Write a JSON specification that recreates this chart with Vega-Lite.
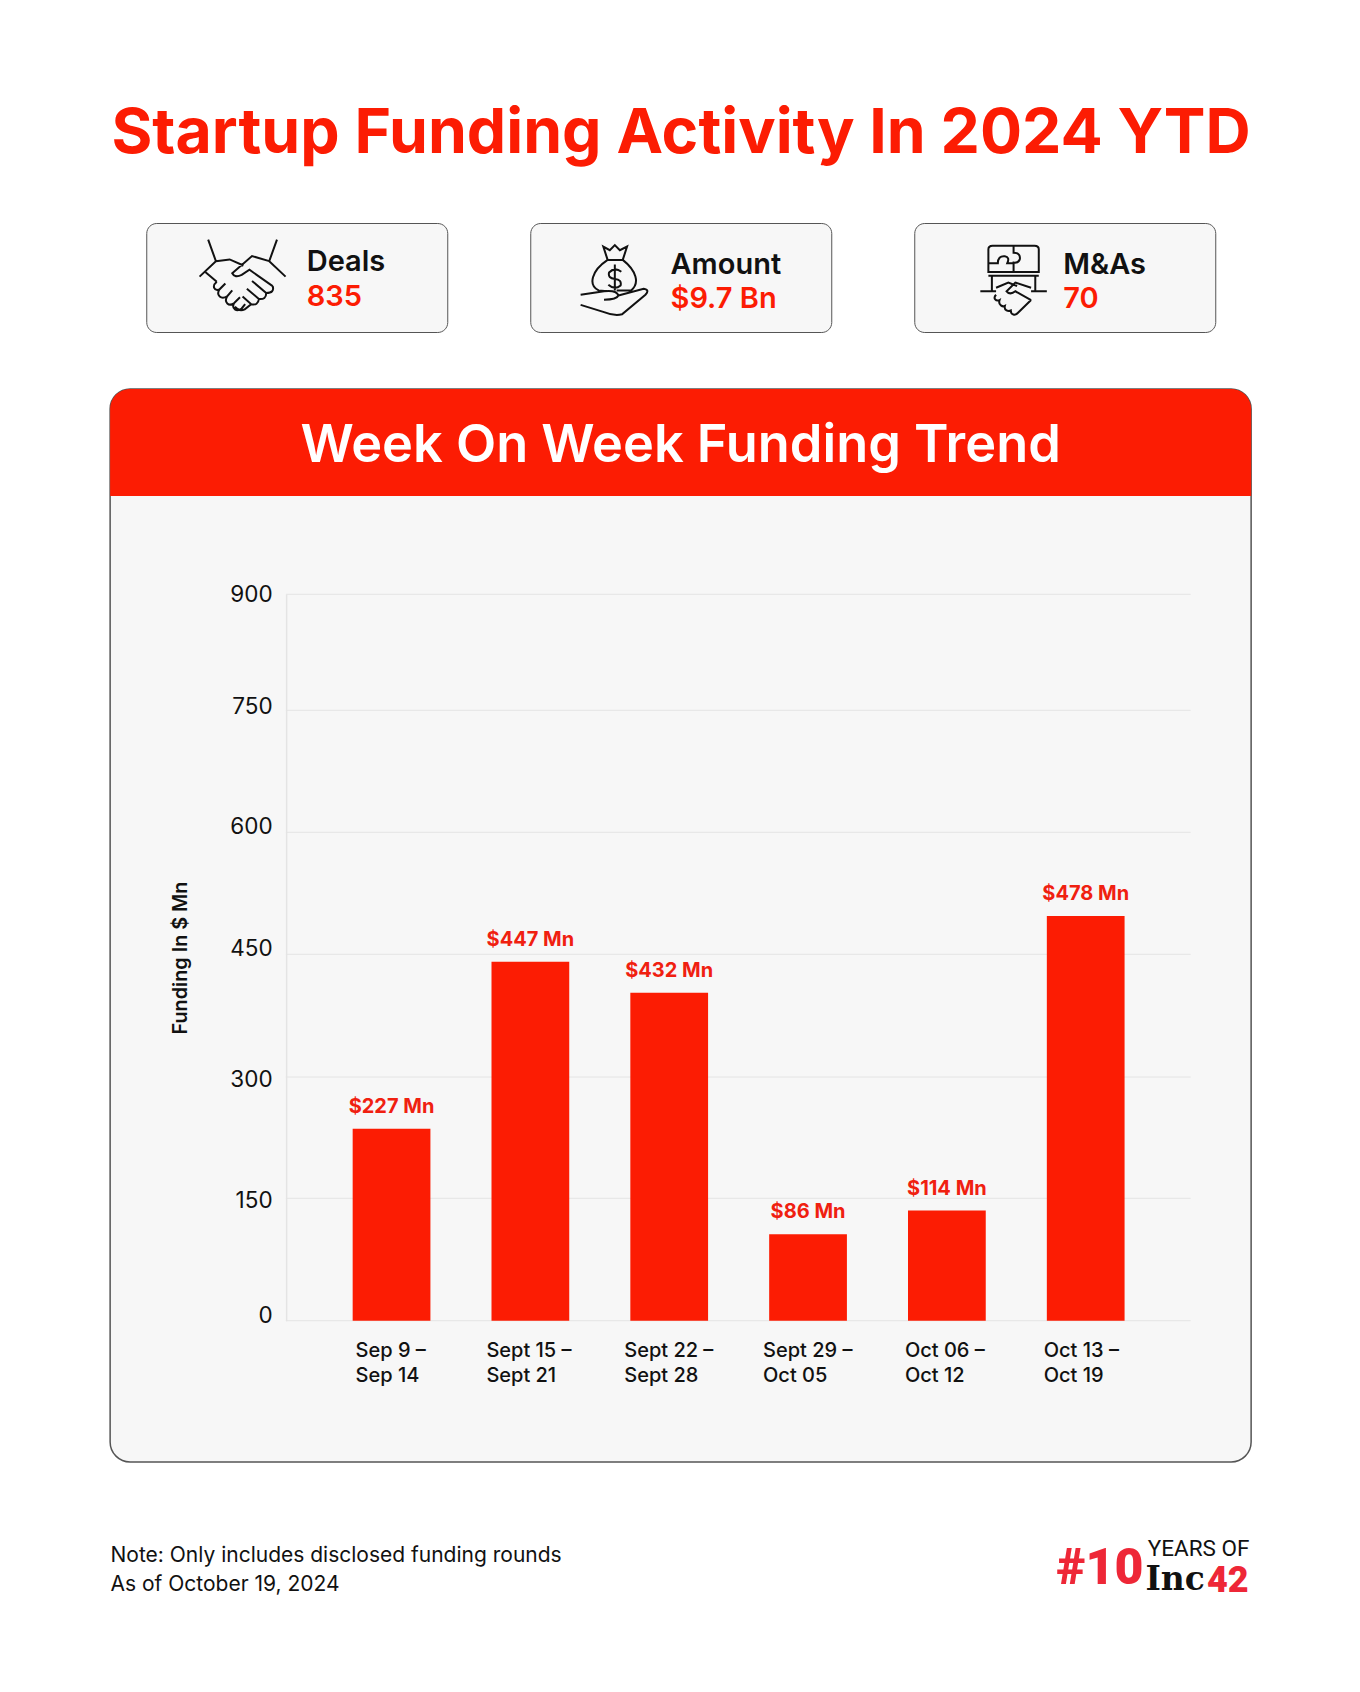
{"$schema":"https://vega.github.io/schema/vega-lite/v6.json","background":"white","padding":{"left":109,"right":109,"top":95,"bottom":75},"autosize":{"type":"pad"},"config":{"view":{"stroke":null},"font":"Inter","text":{"font":"Inter"}},
"datasets":{"weeks":[{"week":"Sep 9 –|Sep 14","funding":236,"label":"$227 Mn"},{"week":"Sept 15 –|Sept 21","funding":441,"label":"$447 Mn"},{"week":"Sept 22 –|Sept 28","funding":403,"label":"$432 Mn"},{"week":"Sept 29 –|Oct 05","funding":106,"label":"$86 Mn"},{"week":"Oct 06 –|Oct 12","funding":135,"label":"$114 Mn"},{"week":"Oct 13 –|Oct 19","funding":497,"label":"$478 Mn"}],"ticks":[{"tick":0},{"tick":150},{"tick":300},{"tick":450},{"tick":600},{"tick":750},{"tick":900}]},
"vconcat":[
{"width":1141,"height":72,"data":{"values":[{"t":"Startup Funding Activity In 2024 YTD"}]},"mark":{"type":"text","fontSize":62.5,"fontWeight":700,"color":"#fc1c03","font":"Inter","dy":3},"encoding":{"text":{"field":"t"}}},
{"hconcat":[
{"width":301,"height":109,"view":{"fill":"#f7f7f7","stroke":"#555555","strokeWidth":1,"cornerRadius":10},"data":{"values":[{"name":"Deals","val":"835"}]},"layer":[
{"mark":{"type":"point","filled":false,"stroke":"#111111","strokeWidth":2,"opacity":1,"size":7396,"shape":"M-1 -0.02L-0.62 -0.38L-0.8 -0.88 M1 -0.02L0.62 -0.38L0.8 -0.88 M-0.62 -0.38L-0.3 -0.42L0.02 -0.28 M0.62 -0.38L0.22 -0.5L-0.24 -0.1 Q-0.18 0.02 -0.02 -0.06L0.16 -0.18L0.7 0.2 M-0.86 -0.12L-0.6 0.1 M0.7 0.2Q0.75 0.36 0.55 0.36L0.22 0.08 M0.55 0.36Q0.55 0.52 0.38 0.5L0.1 0.26 M0.38 0.5Q0.36 0.66 0.2 0.62L0 0.44 M0.2 0.62L0.05 0.74Q-0.08 0.8 -0.18 0.68 M-0.6 0.1C-0.72 0.2 -0.66 0.32 -0.54 0.28 L-0.4 0.14 M-0.54 0.28 C-0.62 0.42 -0.5 0.52 -0.36 0.44 L-0.24 0.3 M-0.36 0.44 C-0.44 0.58 -0.32 0.68 -0.2 0.6 L-0.06 0.46 M-0.2 0.6 C-0.26 0.72 -0.14 0.82 -0.02 0.72 L0.06 0.62"},"encoding":{"x":{"datum":0.32,"type":"quantitative","scale":{"domain":[0,1],"range":[0,301]},"axis":null},"y":{"datum":0.5,"type":"quantitative","scale":{"domain":[0,1],"range":[0,109]},"axis":null}}},
{"mark":{"type":"text","align":"left","fontSize":29,"fontWeight":600,"color":"#111111"},"encoding":{"text":{"field":"name"},"x":{"datum":0.533,"type":"quantitative","axis":null},"y":{"datum":0.36,"type":"quantitative","axis":null}}},
{"mark":{"type":"text","align":"left","fontSize":29,"fontWeight":600,"color":"#fc1c03"},"encoding":{"text":{"field":"val"},"x":{"datum":0.533,"type":"quantitative","axis":null},"y":{"datum":0.676,"type":"quantitative","axis":null}}}]},
{"width":301,"height":109,"view":{"fill":"#f7f7f7","stroke":"#555555","strokeWidth":1,"cornerRadius":10},"data":{"values":[{"name":"Amount","val":"$9.7 Bn"}]},"layer":[
{"mark":{"type":"point","filled":false,"stroke":"#111111","strokeWidth":2,"opacity":1,"size":5184,"shape":"M-0.2 -0.55C-0.65 -0.25 -0.75 0.15 -0.45 0.3 L-0.2 0.32 M0.22 -0.55C0.6 -0.25 0.7 0.1 0.45 0.3 L0.05 0.3 M-0.2 -0.55L0.22 -0.55 M-0.2 -0.55L-0.32 -0.92L-0.14 -0.82L0 -0.96L0.14 -0.82L0.34 -0.92L0.22 -0.55 M0.18 -0.22Q0 -0.36 -0.16 -0.2Q-0.2 -0.04 0 -0.02Q0.2 0 0.16 0.16Q0 0.3 -0.18 0.14 M0 -0.42L0 0.3 M-0.95 0.42L-0.3 0.32 Q0.05 0.28 0.1 0.44 Q0.05 0.55 -0.3 0.56 M0.1 0.44L0.8 0.25 Q0.98 0.28 0.85 0.42 L0.2 0.96 Q0 1.02 -0.3 0.9 L-0.95 0.7"},"encoding":{"x":{"datum":0.281,"type":"quantitative","scale":{"domain":[0,1],"range":[0,301]},"axis":null},"y":{"datum":0.52,"type":"quantitative","scale":{"domain":[0,1],"range":[0,109]},"axis":null}}},
{"mark":{"type":"text","align":"left","fontSize":29,"fontWeight":600,"color":"#111111"},"encoding":{"text":{"field":"name"},"x":{"datum":0.466,"type":"quantitative","axis":null},"y":{"datum":0.385,"type":"quantitative","axis":null}}},
{"mark":{"type":"text","align":"left","fontSize":29,"fontWeight":600,"color":"#fc1c03"},"encoding":{"text":{"field":"val"},"x":{"datum":0.466,"type":"quantitative","axis":null},"y":{"datum":0.694,"type":"quantitative","axis":null}}}]},
{"width":301,"height":109,"view":{"fill":"#f7f7f7","stroke":"#555555","strokeWidth":1,"cornerRadius":10},"data":{"values":[{"name":"M&As","val":"70"}]},"layer":[
{"mark":{"type":"point","filled":false,"stroke":"#111111","strokeWidth":2,"opacity":1,"size":4900,"shape":"M-0.72 -0.25L-0.72 -0.9Q-0.72 -1 -0.6 -1L0.6 -1Q0.72 -1 0.72 -0.9L0.72 -0.25Z M0 -1L0 -0.8Q0.2 -0.8 0.18 -0.62Q0.15 -0.5 0 -0.52L0 -0.25 M-0.72 -0.5L-0.45 -0.5Q-0.45 -0.72 -0.25 -0.7Q-0.1 -0.68 -0.18 -0.5L0 -0.5 M-0.72 -0.14L0.72 -0.14 M-0.62 -0.14L-0.62 0.3 M0.62 -0.14L0.62 0.3 M-0.95 0.3L-0.5 0.3 M0.95 0.3 L0.5 0.3 M-0.5 0.2L-0.15 0.05L0.1 0.15 M0.5 0.2L0.05 0.05L-0.2 0.3Q-0.1 0.42 0.05 0.3L0.5 0.55 M-0.5 0.4C-0.6 0.5 -0.5 0.6 -0.4 0.55 C-0.45 0.7 -0.3 0.75 -0.25 0.72 C-0.28 0.85 -0.15 0.88 -0.08 0.85 C-0.08 0.98 0.05 1 0.12 0.92 L0.5 0.55"},"encoding":{"x":{"datum":0.33,"type":"quantitative","scale":{"domain":[0,1],"range":[0,301]},"axis":null},"y":{"datum":0.53,"type":"quantitative","scale":{"domain":[0,1],"range":[0,109]},"axis":null}}},
{"mark":{"type":"text","align":"left","fontSize":29,"fontWeight":600,"color":"#111111"},"encoding":{"text":{"field":"name"},"x":{"datum":0.495,"type":"quantitative","axis":null},"y":{"datum":0.385,"type":"quantitative","axis":null}}},
{"mark":{"type":"text","align":"left","fontSize":29,"fontWeight":600,"color":"#fc1c03"},"encoding":{"text":{"field":"val"},"x":{"datum":0.495,"type":"quantitative","axis":null},"y":{"datum":0.694,"type":"quantitative","axis":null}}}]}
],"spacing":81},
{"width":1141,"height":1073,"view":{"fill":"#f7f7f7","stroke":"#555555","strokeWidth":1.5,"cornerRadius":20},"resolve":{"scale":{"x":"independent","y":"independent"},"axis":{"x":"independent","y":"independent"}},"layer":[
{"data":{"values":[{"h":"Week On Week Funding Trend"}]},"mark":{"type":"rect","color":"#fc1c03","cornerRadiusTopLeft":20,"cornerRadiusTopRight":20},"encoding":{"x":{"datum":0,"type":"quantitative","scale":{"domain":[0,1],"range":[0,1141]},"axis":null},"x2":{"datum":1},"y":{"datum":0,"type":"quantitative","scale":{"domain":[0,1],"range":[0,107]},"axis":null},"y2":{"datum":1}}},
{"data":{"values":[{"h":"Week On Week Funding Trend"}]},"mark":{"type":"text","color":"white","fontSize":52.3,"fontWeight":600},"encoding":{"text":{"field":"h"},"x":{"datum":0.5,"type":"quantitative","scale":{"domain":[0,1],"range":[0,1141]},"axis":null},"y":{"datum":0.53,"type":"quantitative","scale":{"domain":[0,1],"range":[0,107]},"axis":null}}},
{"data":{"name":"ticks"},"mark":{"type":"rule","color":"#e4e4e4","strokeWidth":1},"encoding":{"x":{"datum":0.154,"type":"quantitative","scale":{"domain":[0,1],"range":[0,1141]},"axis":null},"x2":{"datum":0.947},"y":{"field":"tick","type":"quantitative","scale":{"domain":[0,150,300,450,600,750,900],"range":[931.7,809.3,688,565.3,443.3,321.3,205.3]},"axis":null}}},
{"data":{"name":"weeks"},"mark":{"type":"bar","color":"#fc1c03"},"encoding":{"x":{"field":"week","type":"nominal","sort":null,"scale":{"range":[212,1045],"paddingInner":0.44,"paddingOuter":0.22},"axis":{"title":null,"orient":"bottom","offset":-141.3,"domain":false,"ticks":false,"labelAngle":0,"labelAlign":"left","labelBaseline":"middle","labelFontSize":20,"labelFontWeight":500,"labelColor":"#111111","labelPadding":30,"labelOffset":{"expr":"datum.value=='Sep 9 –|Sep 14'?-36:datum.value=='Sept 15 –|Sept 21'?-44:datum.value=='Oct 06 –|Oct 12'||datum.value=='Oct 13 –|Oct 19'?-42:-45"},"labelLineHeight":25,"labelExpr":"split(datum.label,'|')"}},"y":{"field":"funding","type":"quantitative","scale":{"domain":[0,150,300,450,600,750,900],"range":[931.7,809.3,688,565.3,443.3,321.3,205.3]},"axis":{"title":"Funding In $ Mn","orient":"left","offset":-176,"values":[0,150,300,450,600,750,900],"grid":false,"ticks":false,"domain":true,"domainColor":"#e4e4e4","domainWidth":1.5,"labelFontSize":22.5,"labelFontWeight":400,"labelColor":"#111111","labelPadding":14,"labelOffset":{"expr":"datum.value==750?-4:datum.value==600?-6:datum.value==450?-6:datum.value==300?2:datum.value==150?2:datum.value==0?-5:0"},"titleFontSize":19.8,"titleFontWeight":600,"titleColor":"#111111","titlePadding":39}}}},
{"data":{"name":"weeks"},"mark":{"type":"text","color":"#f02010","fontSize":20,"fontWeight":700,"dy":-22},"encoding":{"text":{"field":"label"},"x":{"field":"week","type":"nominal","sort":null,"scale":{"range":[212,1045],"paddingInner":0.44,"paddingOuter":0.22},"axis":null},"y":{"field":"funding","type":"quantitative","scale":{"domain":[0,150,300,450,600,750,900],"range":[931.7,809.3,688,565.3,443.3,321.3,205.3]},"axis":null}}}
]},
{"width":1141,"height":100,"data":{"values":[{"l1":"Note: Only includes disclosed funding rounds","l2":"As of October 19, 2024","a":"#10","b":"YEARS OF","c":"Inc","d":"42"}]},"layer":[
{"mark":{"type":"text","align":"left","fontSize":21,"color":"#111111"},"encoding":{"text":{"field":"l1"},"x":{"datum":0,"type":"quantitative","scale":{"domain":[0,1],"range":[0,1141]},"axis":null},"y":{"datum":0.384,"type":"quantitative","scale":{"domain":[0,1],"range":[0,100]},"axis":null}}},
{"mark":{"type":"text","align":"left","fontSize":21,"color":"#111111"},"encoding":{"text":{"field":"l2"},"x":{"datum":0,"type":"quantitative","axis":null},"y":{"datum":0.665,"type":"quantitative","axis":null}}},
{"mark":{"type":"text","align":"left","font":"Roboto","fontSize":50,"fontWeight":900,"color":"#ee2737"},"encoding":{"text":{"field":"a"},"x":{"datum":0.829,"type":"quantitative","axis":null},"y":{"datum":0.505,"type":"quantitative","axis":null}}},
{"mark":{"type":"text","align":"left","font":"Roboto","fontSize":22.5,"color":"#111111"},"encoding":{"text":{"field":"b"},"x":{"datum":0.909,"type":"quantitative","axis":null},"y":{"datum":0.31,"type":"quantitative","axis":null}}},
{"mark":{"type":"text","align":"left","font":"DejaVu Serif","fontSize":33,"fontWeight":700,"color":"#111111"},"encoding":{"text":{"field":"c"},"x":{"datum":0.907,"type":"quantitative","axis":null},"y":{"datum":0.62,"type":"quantitative","axis":null}}},
{"mark":{"type":"text","align":"left","font":"Roboto","fontSize":36,"fontWeight":900,"color":"#ee2737"},"encoding":{"text":{"field":"d"},"x":{"datum":0.961,"type":"quantitative","axis":null},"y":{"datum":0.63,"type":"quantitative","axis":null}}}
]}
],"spacing":55,"center":true}
